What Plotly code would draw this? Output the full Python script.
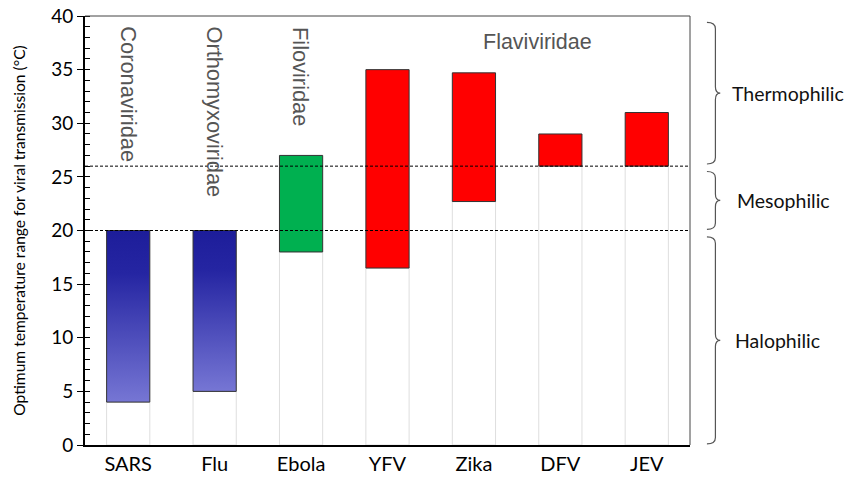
import plotly.graph_objects as go

viruses = ["SARS", "Flu", "Ebola", "YFV", "Zika", "DFV", "JEV"]
low_temp = [4, 5, 18, 16.5, 22.7, 26, 26]
high_temp = [20, 20, 27, 35, 34.7, 29, 31]
bar_colors = ["gradient", "gradient", "#00b050", "#ff0000", "#ff0000", "#ff0000", "#ff0000"]

families = ["Coronaviridae", "Orthomyxoviridae", "Filoviridae"]
flavi_label = "Flaviviridae"

zones = ["Thermophilic", "Mesophilic", "Halophilic"]
zone_top = [39.4, 25.5, 19.4]
zone_bottom = [26.2, 20.1, 0.1]
zone_limits = [20, 26]

idx = list(range(len(viruses)))
W = 0.25  # half bar width

fig = go.Figure()

# invisible base bars (white with light grey edges)
fig.add_bar(
    x=idx, y=low_temp, base=0, width=2 * W,
    marker=dict(color="white", line=dict(color="#dedede", width=1)),
    hoverinfo="skip", showlegend=False,
)

# solid range bars
solid = [i for i in idx if bar_colors[i] != "gradient"]
fig.add_bar(
    x=solid,
    y=[high_temp[i] - low_temp[i] for i in solid],
    base=[low_temp[i] for i in solid],
    width=2 * W,
    marker=dict(color=[bar_colors[i] for i in solid], line=dict(color="#333333", width=1)),
    showlegend=False,
)

# gradient bars (blue)
for i in idx:
    if bar_colors[i] != "gradient":
        continue
    fig.add_scatter(
        x=[i - W, i + W, i + W, i - W, i - W],
        y=[low_temp[i], low_temp[i], high_temp[i], high_temp[i], low_temp[i]],
        mode="lines",
        fill="toself",
        fillgradient=dict(type="vertical", colorscale=[[0, "#7676d4"], [0.75, "#2525a2"], [1, "#1d1d9a"]]),
        line=dict(color="#333333", width=1),
        showlegend=False,
    )

shapes = []
for lim in zone_limits:
    shapes.append(dict(type="line", xref="paper", yref="y", x0=0, x1=0.997, y0=lim, y1=lim,
                       line=dict(color="black", width=1, dash="3px,2px")))

# top and right frame
shapes.append(dict(type="line", xref="paper", yref="paper", x0=0, x1=1, y0=1, y1=1,
                   line=dict(color="#444", width=1)))
shapes.append(dict(type="line", xref="paper", yref="paper", x0=1, x1=1, y0=0, y1=1,
                   line=dict(color="#444", width=1)))

# braces on the right
xh, xl, xt = 1.028, 1.042, 1.050
r = 0.6
label_x = [1.066, 1.074, 1.071]
annotations = []
for name, yt, yb, lx in zip(zones, zone_top, zone_bottom, label_x):
    ym = (yt + yb) / 2
    path = (f"M {xh},{yt} Q {xl},{yt} {xl},{yt - r} L {xl},{ym + r} "
            f"Q {xl},{ym} {xt},{ym} Q {xl},{ym} {xl},{ym - r} "
            f"L {xl},{yb + r} Q {xl},{yb} {xh},{yb}")
    shapes.append(dict(type="path", xref="paper", yref="y", path=path,
                       line=dict(color="#555", width=1.2)))
    annotations.append(dict(x=lx, y=ym, xref="paper", yref="y", text=name, showarrow=False,
                            xanchor="left", yanchor="middle",
                            font=dict(family="Lato", size=19.5, color="#111")))

for i, fam in enumerate(families):
    annotations.append(dict(x=i, y=39.2, xref="x", yref="y", text=fam, showarrow=False,
                            textangle=90, xanchor="center", yanchor="top",
                            font=dict(family="Liberation Sans", size=21.8, color="#555")))
annotations.append(dict(x=4.74, y=37.6, xref="x", yref="y", text=flavi_label, showarrow=False,
                        xanchor="center", yanchor="middle",
                        font=dict(family="Liberation Sans", size=21.5, color="#555")))

fig.update_layout(
    width=859, height=486,
    margin=dict(l=85, r=169, t=16, b=41),
    plot_bgcolor="white", paper_bgcolor="white",
    barmode="overlay",
    showlegend=False,
    shapes=shapes,
    annotations=annotations,
    xaxis=dict(
        range=[-0.5, 6.5], tickvals=idx, ticktext=viruses, automargin=False,
        showgrid=False, zeroline=False, showline=True, linecolor="black", linewidth=2,
        ticks="", tickfont=dict(family="Lato", size=20, color="black"),
    ),
    yaxis=dict(
        range=[0, 40], dtick=5, showgrid=False, zeroline=False, automargin=False,
        showline=True, linecolor="black", linewidth=2,
        ticks="outside", ticklen=6, tickcolor="black", tickwidth=1,
        minor=dict(ticks="inside", dtick=1, ticklen=5, tickcolor="black", tickwidth=1),
        tickfont=dict(family="Lato", size=19, color="black"),
        title=dict(text="Optimum temperature range for viral transmission (°C)",
                   font=dict(family="Lato", size=15.6, color="black"), standoff=22),
    ),
)

# drop the default page margin so the figure sits at the window's corner
fig.write_html("out.html", config={"displayModeBar": False},
               post_script="document.body.style.margin = '0';")
